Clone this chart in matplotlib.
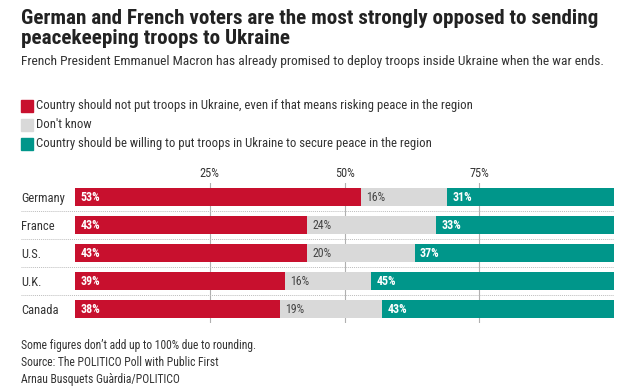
import matplotlib
matplotlib.use('Agg')
import matplotlib.pyplot as plt

plt.rcParams['font.family'] = ['Roboto Condensed', 'Liberation Sans Narrow', 'Roboto']

countries = ['Germany', 'France', 'U.S.', 'U.K.', 'Canada']
against = [53, 43, 43, 39, 38]
dont_know = [16, 24, 20, 16, 19]
willing = [31, 33, 37, 45, 43]

series_names = [
    'Country should not put troops in Ukraine, even if that means risking peace in the region',
    "Don't know",
    'Country should be willing to put troops in Ukraine to secure peace in the region',
]
tick_values = [25, 50, 75]

RED = '#c8102e'
GREY = '#d9d9d9'
TEAL = '#00968a'
colors = [RED, GREY, TEAL]

fig = plt.figure(figsize=(6.41, 3.90), dpi=100)
W, H = 641, 390

def fy(px):
    return 1 - px / H

# header
fig.text(21 / W, fy(18), 'German and French voters are the most strongly opposed to sending',
         fontsize=15.2, fontweight='bold', color='#222222', va='center')
fig.text(21 / W, fy(39), 'peacekeeping troops to Ukraine',
         fontsize=15.2, fontweight='bold', color='#222222', va='center')
fig.text(21 / W, fy(61), 'French President Emmanuel Macron has already promised to deploy troops inside Ukraine when the war ends.',
         fontsize=9.7, color='#333333', va='center')

# legend
for i, (name, c) in enumerate(zip(series_names, colors)):
    y = 106 + i * 19
    fig.patches.append(plt.Rectangle((21 / W, fy(y + 6)), 12 / W, 12 / H,
                                     transform=fig.transFigure, color=c))
    fig.text(36 / W, fy(y), name, fontsize=9.2, color='#333333', va='center')

ax = fig.add_axes([75 / W, fy(323), (614 - 75) / W, (323 - 183) / H])
y = list(range(len(countries)))
ax.barh(y, against, height=0.64, color=RED, zorder=2)
ax.barh(y, dont_know, left=against, height=0.64, color=GREY, zorder=2)
left2 = [a + d for a, d in zip(against, dont_know)]
ax.barh(y, willing, left=left2, height=0.64, color=TEAL, zorder=2)

for i in y:
    ax.text(1.0, i, f'{against[i]}%', color='white',
            fontsize=8.6, fontweight='bold', va='center')
    ax.text(against[i] + 1.0, i, f'{dont_know[i]}%', color='#444444',
            fontsize=8.6, va='center')
    ax.text(left2[i] + 1.0, i, f'{willing[i]}%', color='white',
            fontsize=8.6, fontweight='bold', va='center')

ax.set_xlim(0, 100)
ax.set_ylim(len(countries) - 0.5, -0.5)

for v in tick_values:
    ax.axvline(v, color='#b0b0b0', lw=0.8, zorder=1)
for i in range(len(countries) - 1):
    ax.plot([-0.1, 1.0], [i + 0.5, i + 0.5], transform=ax.get_yaxis_transform(),
            color='#bdbdbd', lw=0.7, ls=(0, (1, 1)), clip_on=False, zorder=1)

ax.xaxis.tick_top()
ax.set_xticks(tick_values)
ax.set_xticklabels([f'{v}%' for v in tick_values], fontsize=8.8, color='#333333')
ax.tick_params(axis='x', length=0, pad=2)
ax.set_yticks(y)
ax.set_yticklabels(countries, fontsize=9.0, color='#333333', ha='left')
ax.tick_params(axis='y', length=0, pad=39)
for s in ax.spines.values():
    s.set_visible(False)

# footer
footer = ['Some figures don\u2019t add up to 100% due to rounding.',
          'Source: The POLITICO Poll with Public First',
          'Arnau Busquets Gu\u00e0rdia/POLITICO']
for i, t in enumerate(footer):
    fig.text(21 / W, fy(346 + i * 16.5), t, fontsize=8.4, color='#333333', va='center')

fig.savefig('out.png', dpi=100)
